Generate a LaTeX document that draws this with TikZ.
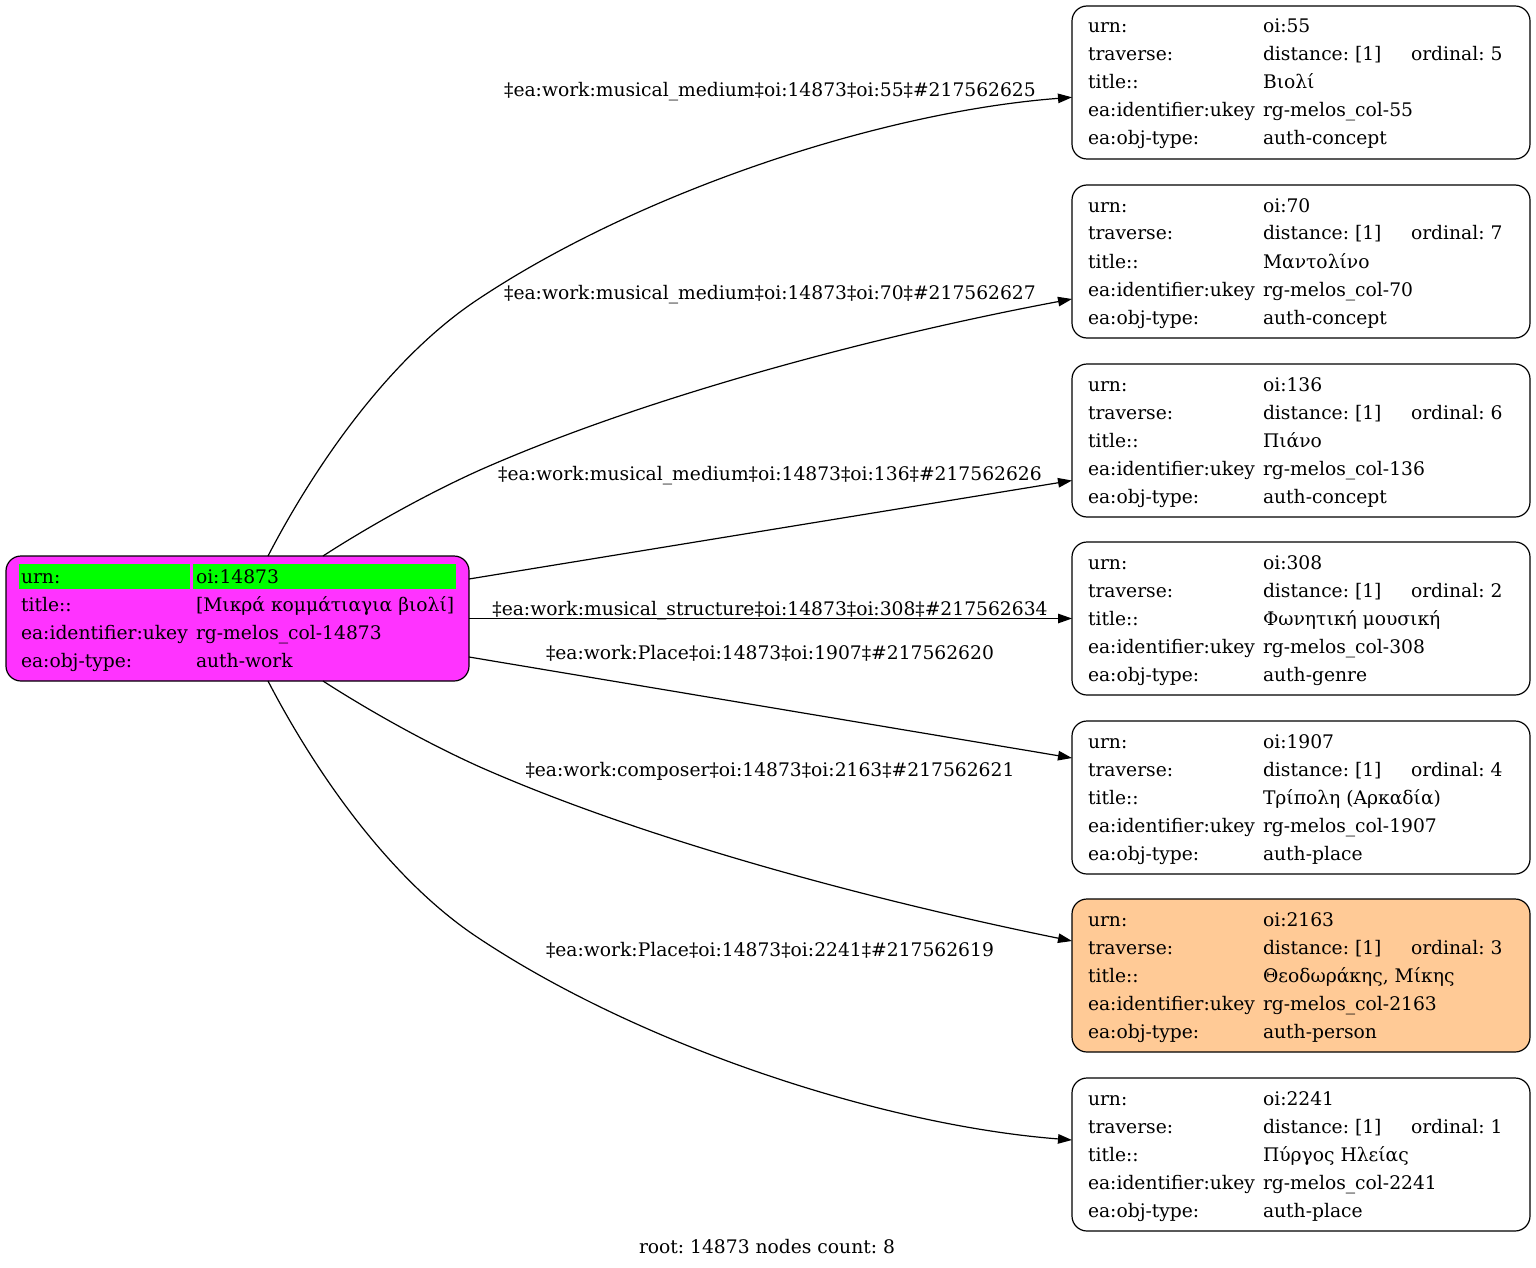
\documentclass[tikz,border=0pt]{standalone}
\usepackage{fontspec}
\setmainfont{DejaVu Serif}
\usetikzlibrary{arrows.meta,calc}
\definecolor{rootfill}{HTML}{FF33FF}
\definecolor{hlgreen}{HTML}{00FF00}
\definecolor{peach}{HTML}{FFCA96}
\newcommand\dgfont{\fontsize{18.7}{22}\selectfont\frenchspacing}
\tikzset{
  box/.style={draw=black, line width=1.2pt, rounded corners=15pt, anchor=north west, minimum width=458pt, minimum height=153pt, inner sep=0pt, outer sep=0pt},
  txt/.style={anchor=base west, inner sep=0pt, outer sep=0pt, font=\dgfont},
  elabel/.style={anchor=base, inner sep=0pt, outer sep=0pt, font=\dgfont},
  conn/.style={draw=black, line width=1.2pt, -{Triangle[length=14pt,width=9.5pt]}},
  hl/.style={fill=hlgreen, draw=none, inner sep=0pt, outer sep=0pt, anchor=north west},
}
\begin{document}
\begin{tikzpicture}[x=1pt,y=-1pt]
\useasboundingbox (0,0) rectangle (1536,1268);
% root node
\node[box, fill=rootfill, minimum width=463pt, minimum height=125pt] (root) at (6,556) {};
\node[hl, minimum width=171pt, minimum height=25pt] (hl1) at (19,564) {};
\node[hl, minimum width=263pt, minimum height=25pt] (hl2) at (193,564) {};
\node[txt] (rk1) at (21,583) {urn:};
\node[txt] (rk2) at (21,611) {title::};
\node[txt] (rk3) at (21,639) {ea:identifier:ukey};
\node[txt] (rk4) at (21,667) {ea:obj-type:};
\node[txt] (rv1) at (196,583) {oi:14873};
\node[txt] (rv2) at (196,611) {[Μικρά κομμάτιαγια βιολί]};
\node[txt] (rv3) at (196,639) {rg-melos\_col-14873};
\node[txt] (rv4) at (196,667) {auth-work};
% target nodes
\foreach \nI/\nT/\nU/\nO/\nTi/\nTy/\nF in {
  1/6/55/5/Βιολί/concept/white,
  2/185/70/7/Μαντολίνο/concept/white,
  3/364/136/6/Πιάνο/concept/white,
  4/542/308/2/Φωνητική μουσική/genre/white,
  5/721/1907/4/Τρίπολη (Αρκαδία)/place/white,
  6/899/2163/3/{Θεοδωράκης, Μίκης}/person/peach,
  7/1078/2241/1/Πύργος Ηλείας/place/white}{
  \node[box, fill=\nF] (n\nI) at (1072,\nT) {};
  \node[txt] (n\nI-k1) at (1088,\nT+27) {urn:};
  \node[txt] (n\nI-k2) at (1088,\nT+55) {traverse:};
  \node[txt] (n\nI-k3) at (1088,\nT+83) {title::};
  \node[txt] (n\nI-k4) at (1088,\nT+111) {ea:identifier:ukey};
  \node[txt] (n\nI-k5) at (1088,\nT+139) {ea:obj-type:};
  \node[txt] (n\nI-v1) at (1263,\nT+27) {oi:\nU};
  \node[txt] (n\nI-v2) at (1263,\nT+55) {distance: [1]};
  \node[txt] (n\nI-o) at (1411,\nT+55) {ordinal: \nO};
  \node[txt] (n\nI-v3) at (1263,\nT+83) {\nTi};
  \node[txt] (n\nI-v4) at (1263,\nT+111) {rg-melos\_col-\nU};
  \node[txt] (n\nI-v5) at (1263,\nT+139) {auth-\nTy};
}
% connectors
\draw[conn] ($(root.north)+(30.5,0)$) .. controls (310,475) and (385,360) .. (480,298) .. controls (640,192) and (880,112) .. ($(n1.west)+(0,14.8)$);
\draw[conn] ($(root.north)+(85.5,0)$) .. controls (360,532) and (420,497) .. (480,470) .. controls (650,395) and (880,335) .. ($(n2.west)+(0,37.5)$);
\draw[conn] ($(root.east)+(0,-39.5)$) -- ($(n3.west)+(0,40)$);
\draw[conn] (root.east) -- (n4.west);
\draw[conn] ($(root.east)+(0,38.5)$) -- ($(n5.west)+(0,-39.5)$);
\draw[conn] ($(root.south)+(85.5,0)$) .. controls (360,705) and (420,740) .. (480,767) .. controls (650,842) and (880,902) .. ($(n6.west)+(0,-34.5)$);
\draw[conn] ($(root.south)+(30.5,0)$) .. controls (310,762) and (385,877) .. (480,939) .. controls (640,1045) and (880,1125) .. ($(n7.west)+(0,-14.5)$);
% edge labels
\node[elabel] (l1) at (770,97) {‡ea:work:musical\_medium‡oi:14873‡oi:55‡\#217562625};
\node[elabel] (l2) at (770,299) {‡ea:work:musical\_medium‡oi:14873‡oi:70‡\#217562627};
\node[elabel] (l3) at (770,480) {‡ea:work:musical\_medium‡oi:14873‡oi:136‡\#217562626};
\node[elabel] (l4) at (770,615) {‡ea:work:musical\_structure‡oi:14873‡oi:308‡\#217562634};
\node[elabel] (l5) at (770,659) {‡ea:work:Place‡oi:14873‡oi:1907‡\#217562620};
\node[elabel] (l6) at (770,776) {‡ea:work:composer‡oi:14873‡oi:2163‡\#217562621};
\node[elabel] (l7) at (770,956) {‡ea:work:Place‡oi:14873‡oi:2241‡\#217562619};
% footer
\node[elabel] (footer) at (767,1253) {root: 14873 nodes count: 8};
\end{tikzpicture}
\end{document}
